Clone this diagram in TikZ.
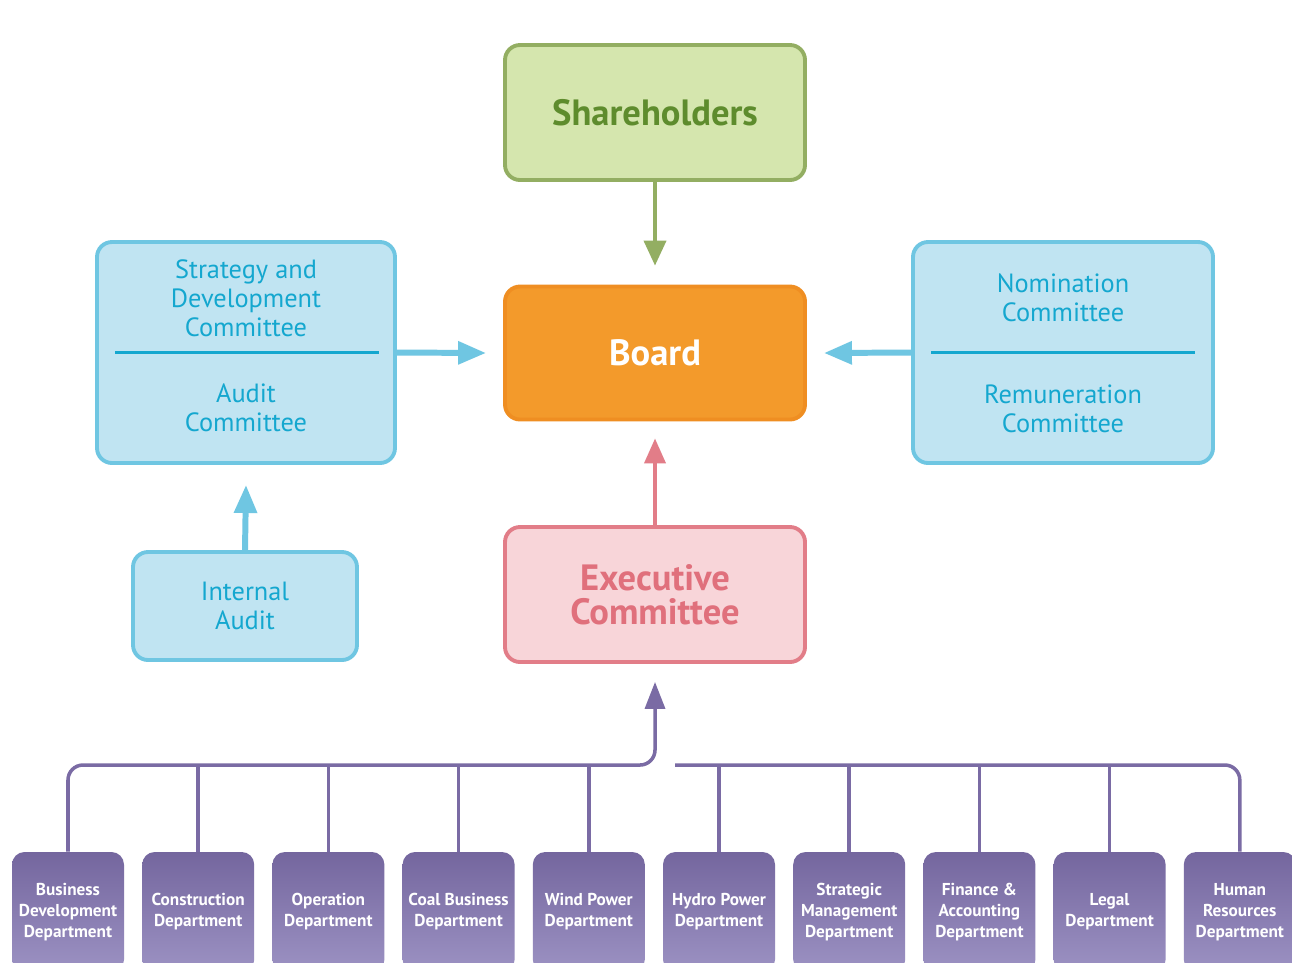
\documentclass[tikz,border=0pt]{standalone}
\usepackage{fontspec}
\setmainfont{PT Sans}
\usepackage{xcolor}
\usepackage{tikz}
\usetikzlibrary{positioning, arrows.meta}

\definecolor{shFill}{HTML}{D5E6AE}
\definecolor{shLine}{HTML}{93AE62}
\definecolor{shText}{HTML}{5E8C2D}
\definecolor{bdFill}{HTML}{F39A2B}
\definecolor{bdLine}{HTML}{EF8E22}
\definecolor{cmFill}{HTML}{C0E4F2}
\definecolor{cmLine}{HTML}{6FC6E2}
\definecolor{cmText}{HTML}{14A7CF}
\definecolor{exFill}{HTML}{F8D5D9}
\definecolor{exLine}{HTML}{E27D88}
\definecolor{exText}{HTML}{E0707C}
\definecolor{dpTop}{HTML}{74669E}
\definecolor{dpBot}{HTML}{9C92C3}
\definecolor{dpLine}{HTML}{7A6BA4}

\tikzset{
  box/.style={rounded corners=0.3cm, line width=2.2pt, inner sep=0pt, align=center},
  sharebox/.style={box, fill=shFill, draw=shLine, text=shText,
    minimum width=6cm, minimum height=2.7cm,
    font=\bfseries\fontsize{20.8}{19.4}\selectfont},
  boardbox/.style={box, fill=bdFill, draw=bdLine, text=white,
    minimum width=6cm, minimum height=2.66cm,
    font=\bfseries\fontsize{20.8}{19.4}\selectfont},
  execbox/.style={box, fill=exFill, draw=exLine, text=exText,
    minimum width=6cm, minimum height=2.7cm,
    font=\bfseries\fontsize{20.8}{19.4}\selectfont},
  cmbox/.style={box, fill=cmFill, draw=cmLine, text=cmText,
    font=\fontsize{15}{16.5}\selectfont},
  cmtext/.style={text=cmText, align=center, inner sep=0pt,
    font=\fontsize{15}{16.5}\selectfont},
  dept/.style={rounded corners=0.25cm, top color=dpTop, bottom color=dpBot,
    text=white, align=center, inner sep=0pt,
    minimum width=2.24cm, minimum height=2.4cm,
    font=\bfseries\fontsize{9.8}{12}\selectfont},
  divider/.style={draw=cmText, line width=1.6pt},
  cyanarrow/.style={-{Triangle[length=0.56cm,width=0.44cm]}, draw=cmLine, line width=3.4pt},
  greenarrow/.style={-{Triangle[length=0.5cm,width=0.44cm]}, draw=shLine, line width=2.2pt},
  pinkarrow/.style={-{Triangle[length=0.5cm,width=0.42cm]}, draw=exLine, line width=2.2pt},
  busline/.style={draw=dpLine, line width=2pt, rounded corners=0.3cm},
  busarrow/.style={busline, -{Triangle[length=0.54cm,width=0.4cm]}},
}

\begin{document}
\begin{tikzpicture}
  % Page
  \fill[white] (0,0) rectangle (25.84,-19.24);
  \useasboundingbox (0,0) rectangle (25.84,-19.24);

  % Main chain
  \node[sharebox] (share) at (13.1,-2.25) {Shareholders};
  \node[boardbox] (board) at (13.1,-7.06) {Board};
  \node[execbox] (exec) at (13.1,-11.89) {Executive\\Committee};

  % Committees
  \node[cmbox, minimum width=5.96cm, minimum height=4.42cm] (comL) at (4.92,-7.05) {};
  \node[cmtext] (sdc) at (4.92,-5.96) {Strategy and\\Development\\Committee};
  \node[cmtext] (audc) at (4.92,-8.16) {Audit\\Committee};
  \draw[divider] ([xshift=0.4cm]comL.west) -- ([xshift=-0.36cm]comL.east);

  \node[cmbox, minimum width=6cm, minimum height=4.42cm] (comR) at (21.26,-7.05) {};
  \node[cmtext] (nomc) at (21.26,-5.95) {Nomination\\Committee};
  \node[cmtext] (remc) at (21.26,-8.17) {Remuneration\\Committee};
  \draw[divider] ([xshift=0.4cm]comR.west) -- ([xshift=-0.4cm]comR.east);

  \node[cmbox, minimum width=4.48cm, minimum height=2.16cm] (ia) at (4.9,-12.12) {Internal\\Audit};

  % Arrows to the board
  \draw[greenarrow] (share.south) -- ([yshift=0.38cm]board.north);
  \draw[cyanarrow] (comL.east) -- ([xshift=-0.34cm]board.west);
  \draw[cyanarrow] (comR.west) -- ([xshift=0.34cm]board.east);
  \draw[pinkarrow] (exec.north) -- ([yshift=-0.34cm]board.south);
  \draw[cyanarrow] (ia.north) -- ([yshift=-0.4cm]comL.south);

  % Departments
  \foreach \name [count=\i] in {{Business\\Development\\Department},
      {Construction\\Department}, {Operation\\Department},
      {Coal Business\\Department}, {Wind Power\\Department},
      {Hydro Power\\Department}, {Strategic\\Management\\Department},
      {Finance \&\\Accounting\\Department}, {Legal\\Department},
      {Human\\Resources\\Department}}
    \node[dept] (d\i) at ({1.36+2.604*(\i-1)},-18.24) {\name};

  % Bus to the executive committee
  \coordinate (bus) at (0,-15.3);
  \coordinate (busR) at (13.5,-15.3);
  \draw[busarrow] (d1.north) |- (exec.south |- bus) -- ([yshift=-0.36cm]exec.south);
  \draw[busline] (busR) -| (d10.north);
  \foreach \i in {2,...,9}
    \draw[busline] (d\i.north) -- (d\i.north |- bus);
\end{tikzpicture}
\end{document}
